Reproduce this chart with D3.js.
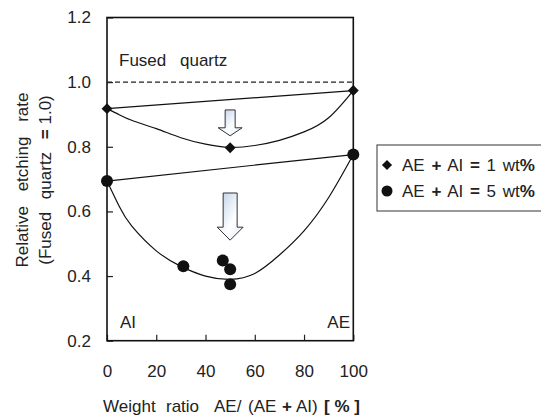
<!DOCTYPE html>
<html>
<head>
<meta charset="utf-8">
<script src="https://cdn.jsdelivr.net/npm/d3@7"></script>
<style>
  body { margin: 0; background: #fff; }
  text { font-family: "Liberation Sans", Arial, sans-serif; fill: #222; }
</style>
</head>
<body>
<div id="vis"></div>
<script>
// measured points
var diamondX = [0, 50, 100];
var diamondY = [0.918, 0.797, 0.974];
var circleX = [0, 31, 47, 50, 50, 100];
var circleY = [0.694, 0.430, 0.448, 0.421, 0.375, 0.776];

// fitted curves
var fitX = [0, 5, 10, 20, 30, 40, 50, 60, 70, 80, 90, 100];
var fit1Y = [0.918, 0.899, 0.882, 0.856, 0.828, 0.808, 0.798, 0.804, 0.820, 0.846, 0.890, 0.974];
var fit5Y = [0.694, 0.615, 0.555, 0.478, 0.430, 0.400, 0.390, 0.408, 0.465, 0.540, 0.643, 0.776];

var xTicks = [0, 20, 40, 60, 80, 100];
var yTicks = [0.2, 0.4, 0.6, 0.8, 1.0, 1.2];

var width = 541, height = 415;
var svg = d3.select("#vis").append("svg")
  .attr("width", width)
  .attr("height", height);

var x = d3.scaleLinear().domain([0, 100]).range([107, 353.3]);
var y = d3.scaleLinear().domain([0.2, 1.2]).range([340.7, 17.5]);

var defs = svg.append("defs");
var grad = defs.append("linearGradient").attr("id", "arrowFill")
  .attr("x1", "0").attr("y1", "0").attr("x2", "1").attr("y2", "1");
grad.append("stop").attr("offset", "0").attr("stop-color", "#b9cde6");
grad.append("stop").attr("offset", "0.6").attr("stop-color", "#ffffff");
grad.append("stop").attr("offset", "1").attr("stop-color", "#dfe8f4");

// axes with inward ticks
var xAxis = svg.append("g")
  .attr("transform", "translate(0," + y(0.2) + ")")
  .call(d3.axisBottom(x).tickValues(xTicks).tickSizeInner(-6).tickSizeOuter(0).tickPadding(24));
var yAxis = svg.append("g")
  .attr("transform", "translate(" + x(0) + ",0)")
  .call(d3.axisLeft(y).tickValues(yTicks).tickFormat(d3.format(".1f")).tickSizeInner(-6).tickSizeOuter(0).tickPadding(16));
[xAxis, yAxis].forEach(function(a) {
  a.select(".domain").remove();
  a.selectAll("line").attr("stroke", "#222").attr("stroke-width", 1.2);
  a.selectAll("text").style("font-size", "17px").attr("fill", "#222")
    .style("font-family", "Liberation Sans, Arial, sans-serif");
});

// frame
svg.append("rect")
  .attr("x", x(0)).attr("y", y(1.2))
  .attr("width", x(100) - x(0)).attr("height", y(0.2) - y(1.2))
  .attr("fill", "none").attr("stroke", "#111").attr("stroke-width", 1.6);

// fused quartz reference
svg.append("line")
  .attr("x1", x(0)).attr("x2", x(100))
  .attr("y1", y(1.0)).attr("y2", y(1.0))
  .attr("stroke", "#222").attr("stroke-width", 1.1)
  .attr("stroke-dasharray", "5,3");
svg.append("text").attr("x", 119).attr("y", 66)
  .style("font-size", "17px").style("word-spacing", "9px").text("Fused quartz");

svg.append("text").attr("x", 120).attr("y", 328).style("font-size", "17px").text("AI");
svg.append("text").attr("x", 350).attr("y", 328).attr("text-anchor", "end").style("font-size", "17px").text("AE");

// straight lines between end members
function endLine(xs, ys) {
  svg.append("line")
    .attr("x1", x(xs[0])).attr("y1", y(ys[0]))
    .attr("x2", x(xs[xs.length - 1])).attr("y2", y(ys[ys.length - 1]))
    .attr("stroke", "#111").attr("stroke-width", 1.2);
}
endLine(diamondX, diamondY);
endLine(circleX, circleY);

// fitted curves
var line = d3.line().x(function(d) { return x(d[0]); }).y(function(d) { return y(d[1]); })
  .curve(d3.curveNatural);
[fit1Y, fit5Y].forEach(function(fy) {
  svg.append("path")
    .datum(fitX.map(function(v, i) { return [v, fy[i]]; }))
    .attr("d", line)
    .attr("fill", "none").attr("stroke", "#111").attr("stroke-width", 1.2);
});

// block arrows
function blockArrow(cx, yTop, yTip, shaftHalf, headHalf, headLen) {
  var X = x(cx), t = y(yTop), b = y(yTip), h = b - headLen;
  var pts = [[X - shaftHalf, t], [X + shaftHalf, t], [X + shaftHalf, h], [X + headHalf, h],
             [X, b], [X - headHalf, h], [X - shaftHalf, h]];
  svg.append("path")
    .attr("d", "M" + pts.map(function(p) { return p.join(","); }).join("L") + "Z")
    .attr("fill", "url(#arrowFill)").attr("stroke", "#333").attr("stroke-width", 1);
}
blockArrow(50, 0.914, 0.834, 5, 12, 8);
blockArrow(50, 0.657, 0.511, 7, 13, 13);

// markers
var diamond = d3.symbol().type(d3.symbolDiamond2).size(75);
svg.selectAll(".dia").data(diamondX).enter().append("path")
  .attr("class", "dia")
  .attr("transform", function(d, i) { return "translate(" + x(d) + "," + y(diamondY[i]) + ")"; })
  .attr("d", diamond).attr("fill", "#111");
svg.selectAll(".cir").data(circleX).enter().append("circle")
  .attr("class", "cir")
  .attr("cx", function(d) { return x(d); })
  .attr("cy", function(d, i) { return y(circleY[i]); })
  .attr("r", 6).attr("fill", "#111");

// y label
var yl = svg.append("text")
  .attr("transform", "translate(28,180) rotate(-90)")
  .attr("text-anchor", "middle").style("font-size", "17px");
yl.append("tspan").attr("x", 0).attr("y", 0).style("word-spacing", "10px").text("Relative etching rate");
var yl2 = yl.append("tspan").attr("x", 0).attr("y", 23);
yl2.append("tspan").style("word-spacing", "8px").text("(Fused quartz ");
yl2.append("tspan").style("font-weight", "bold").text("=");
yl2.append("tspan").text(" 1.0)");

// x label
var xParts = [
  {t: "Weight", x: 103, b: false},
  {t: "ratio", x: 166, b: false},
  {t: "AE/", x: 214, b: false},
  {t: "(AE", x: 248, b: false},
  {t: "+", x: 282, b: true},
  {t: "AI)", x: 296, b: false},
  {t: "[ % ]", x: 324, b: true}
];
var xl = svg.append("text").attr("y", 412).style("font-size", "17px").attr("xml:space", "preserve");
xParts.forEach(function(p) {
  xl.append("tspan").attr("x", p.x).style("font-weight", p.b ? "bold" : "normal")
    .style("white-space", "pre").text(p.t);
});

// legend
svg.append("rect").attr("x", 377).attr("y", 145).attr("width", 180).attr("height", 66)
  .attr("fill", "#fff").attr("stroke", "#555").attr("stroke-width", 1.2);
var legendRows = [{sym: "d", n: "1"}, {sym: "c", n: "5"}];
legendRows.forEach(function(r, i) {
  var cy = 165 + i * 26;
  if (r.sym === "d") {
    svg.append("path").attr("transform", "translate(387," + cy + ")")
      .attr("d", d3.symbol().type(d3.symbolDiamond2).size(65)).attr("fill", "#111");
  } else {
    svg.append("circle").attr("cx", 387).attr("cy", cy).attr("r", 5.5).attr("fill", "#111");
  }
  var t = svg.append("text").attr("x", 402).attr("y", cy + 6).style("font-size", "17px")
    .style("word-spacing", "2px");
  t.append("tspan").text("AE ");
  t.append("tspan").style("font-weight", "bold").text("+");
  t.append("tspan").text(" AI ");
  t.append("tspan").style("font-weight", "bold").text("=");
  t.append("tspan").text(" " + r.n + " wt");
  t.append("tspan").style("font-weight", "bold").text("%");
});
</script>
</body>
</html>
